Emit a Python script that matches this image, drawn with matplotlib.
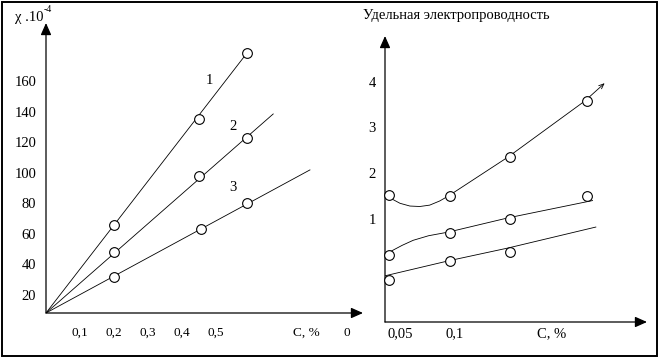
import matplotlib
matplotlib.use("Agg")
import matplotlib.pyplot as plt
from matplotlib.patches import Rectangle

plt.rcParams['font.family'] = ['Liberation Serif', 'DejaVu Serif']

# left panel: susceptibility vs concentration
c_pts = [0.2, 0.45, 0.59]
c_pts3 = [0.2, 0.455, 0.59]
chi1 = [66, 135, 178]
chi2 = [48, 98, 123]
chi3 = [32, 63, 80]
chi_origin = 8.2
line_end_c = [0.59, 0.668, 0.776]
line_end_chi = [178, 138.4, 101.8]
curve_names = ['1', '2', '3']
name_c = [0.479, 0.55, 0.55]
name_chi = [160, 130, 90]
left_yticks = [20, 40, 60, 80, 100, 120, 140, 160]
left_xticks = [0.1, 0.2, 0.3, 0.4, 0.5, 0.766, 0.885]
left_xlabels = ['0,1', '0,2', '0,3', '0,4', '0,5', 'C, %', '0']

# right panel: specific conductivity vs concentration
c_r = [0.04, 0.095, 0.15, 0.22]
top_pts = [1.52, 1.50, 2.35, 3.58]
mid_pts = [0.20, 0.69, 1.00, 1.50]
c_r_bot = [0.04, 0.095, 0.15]
bot_pts = [-0.34, 0.08, 0.27]
top_fit_c = [0.043, 0.05, 0.059, 0.068, 0.077, 0.086, 0.094, 0.148, 0.218]
top_fit_y = [1.43, 1.34, 1.28, 1.27, 1.30, 1.39, 1.50, 2.35, 3.58]
top_arrow_end = (0.236, 3.97)
mid_fit_c = [0.041, 0.052, 0.062, 0.076, 0.094, 0.148, 0.225]
mid_fit_y = [0.28, 0.42, 0.53, 0.63, 0.71, 1.02, 1.40]
bot_fit_c = [0.036, 0.094, 0.148, 0.228]
bot_fit_y = [-0.25, 0.08, 0.36, 0.82]
right_yticks = [1, 2, 3, 4]
right_xticks = [0.05, 0.1, 0.1877]
right_xlabels = ['0,05', '0,1', 'C, %']

W, H = 659, 358
fig = plt.figure(figsize=(W / 100, H / 100), dpi=100)

arrow = dict(arrowstyle='-|>,head_length=0.45,head_width=0.2', color='k',
             lw=0.9, mutation_scale=16, shrinkA=0, shrinkB=0)
mk = dict(marker='o', ms=7, mfc='white', mec='k', mew=0.8, ls='none', zorder=3)
lw = 0.6


def bare_axes(ax):
    for s in ax.spines.values():
        s.set_visible(False)
    ax.tick_params(length=0)
    ax.patch.set_alpha(0)
    ax.annotate('', xy=(0, 1), xytext=(0, 0), xycoords='axes fraction',
                arrowprops=arrow, annotation_clip=False)
    ax.annotate('', xy=(1, 0), xytext=(0, 0), xycoords='axes fraction',
                arrowprops=arrow, annotation_clip=False)


# left axes
ax1 = fig.add_axes([46 / W, (H - 313) / H, 317 / W, 290 / H])
bare_axes(ax1)
ax1.set_xlim(0, 0.932)
ax1.set_ylim(chi_origin, 197.9)
for i, (cc, ch) in enumerate([(c_pts, chi1), (c_pts, chi2), (c_pts3, chi3)]):
    ax1.plot([0, line_end_c[i]], [chi_origin, line_end_chi[i]], color='k', lw=lw)
    ax1.plot(cc, ch, **mk)
    ax1.text(name_c[i], name_chi[i], curve_names[i], fontsize=10.5, ha='center', va='center')
ax1.set_yticks(left_yticks)
ax1.set_yticklabels([str(v) for v in left_yticks], fontsize=10.5)
ax1.set_xticks(left_xticks)
ax1.set_xticklabels(left_xlabels, fontsize=9.5)
ax1.tick_params(axis='y', pad=7)
ax1.tick_params(axis='x', pad=10)

fig.text(15 / W, 1 - 17 / H, 'χ .10', fontsize=10.5, ha='left', va='center')
fig.text(44 / W, 1 - 10 / H, '-4', fontsize=7, ha='left', va='center')

# right axes
ax2 = fig.add_axes([385 / W, (H - 322) / H, 262 / W, 286 / H])
bare_axes(ax2)
ax2.set_xlim(0.03636, 0.2745)
ax2.set_ylim(-1.259, 5.003)
ax2.plot(top_fit_c, top_fit_y, color='k', lw=lw)
ax2.annotate('', xy=top_arrow_end, xytext=(top_fit_c[-1], top_fit_y[-1]),
             arrowprops=dict(arrowstyle='->,head_length=0.6,head_width=0.25', color='k',
                             lw=lw, mutation_scale=6, shrinkA=0, shrinkB=0))
ax2.plot(mid_fit_c, mid_fit_y, color='k', lw=lw)
ax2.plot(bot_fit_c, bot_fit_y, color='k', lw=lw)
ax2.plot(c_r, top_pts, clip_on=False, **mk)
ax2.plot(c_r, mid_pts, clip_on=False, **mk)
ax2.plot(c_r_bot, bot_pts, clip_on=False, **mk)
ax2.set_yticks(right_yticks)
ax2.set_yticklabels([str(v) for v in right_yticks], fontsize=10.5)
ax2.set_xticks(right_xticks)
ax2.set_xticklabels(right_xlabels, fontsize=10.5)
ax2.tick_params(axis='y', pad=6.5)
ax2.tick_params(axis='x', pad=4)

fig.text(363 / W, 1 - 15 / H, 'Удельная электропроводность', fontsize=10.5,
         ha='left', va='center')

# outer frame
fig.add_artist(Rectangle((1.5 / W, 2.5 / H), 655.5 / W, 354 / H, transform=fig.transFigure,
                         fill=False, lw=1.4, ec='k'))

fig.savefig('out.png', dpi=100)
